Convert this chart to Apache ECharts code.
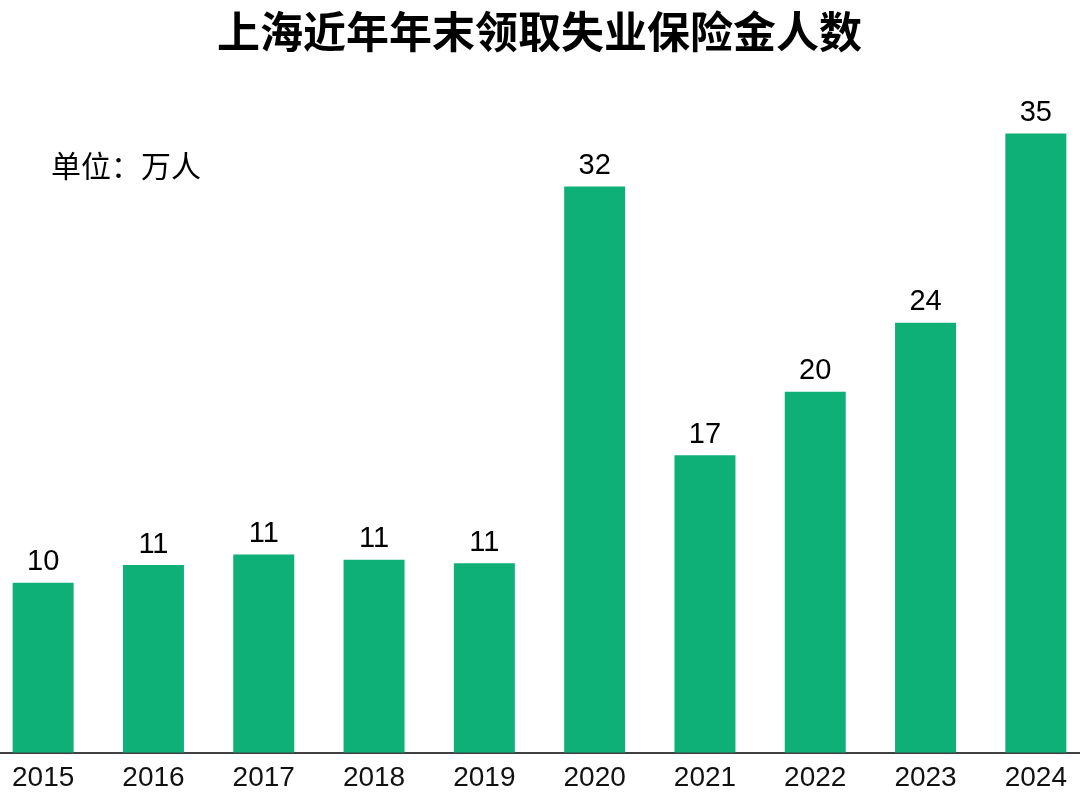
<!DOCTYPE html>
<html>
<head>
<meta charset="utf-8">
<script src="https://cdn.jsdelivr.net/npm/echarts@6/dist/echarts.min.js"></script>
<style>
    html, body { margin: 0; padding: 0; background: #fff; overflow: hidden; }
    /* 图表比窗口略宽，首尾两根柱子贴近边缘 */
    #main { width: 1103px; height: 800px; margin-left: -12px; }
</style>
</head>
<body>
<div id="main"></div>
<script>
// 年份
var years = ['2015', '2016', '2017', '2018', '2019', '2020', '2021', '2022', '2023', '2024'];
// 年末领取失业保险金人数（万人），按柱高估读
var peopleValues = [9.6, 10.6, 11.2, 10.9, 10.7, 32.0, 16.8, 20.4, 24.3, 35.0];

var myChart = echarts.init(document.getElementById('main'));
var option = {
    backgroundColor: '#fff',
    title: [{
        text: '上海近年年末领取失业保险金人数',
        left: 'center',
        top: 5,
        textStyle: {
            fontFamily: 'Noto Sans CJK SC',
            fontSize: 43,
            fontWeight: 'bold',
            color: '#000'
        }
    }, {
        text: '单位：万人',
        left: 58,
        top: 146,
        textStyle: {
            fontFamily: 'Noto Sans CJK SC',
            fontSize: 30,
            fontWeight: 'normal',
            color: '#000'
        }
    }],
    grid: {
        left: 0,
        right: 0,
        top: 45,
        bottom: 47.5,
        containLabel: false
    },
    xAxis: {
        type: 'category',
        data: years,
        axisLine: {
            show: true,
            lineStyle: { color: '#000', width: 1.5 }
        },
        axisTick: { show: false },
        axisLabel: {
            margin: 12,
            fontFamily: 'Liberation Sans',
            fontSize: 28,
            color: '#111'
        }
    },
    yAxis: {
        type: 'value',
        min: 0,
        max: 40,
        show: false,
        splitLine: { show: false }
    },
    series: [{
        type: 'bar',
        data: peopleValues,
        barWidth: 61,
        itemStyle: { color: '#0fb077' },
        label: {
            show: true,
            position: 'top',
            distance: 6,
            fontFamily: 'Liberation Sans',
            fontSize: 29,
            color: '#000',
            formatter: function (p) {
                return Math.round(p.value);
            }
        }
    }]
};
myChart.setOption(option);
</script>
</body>
</html>
